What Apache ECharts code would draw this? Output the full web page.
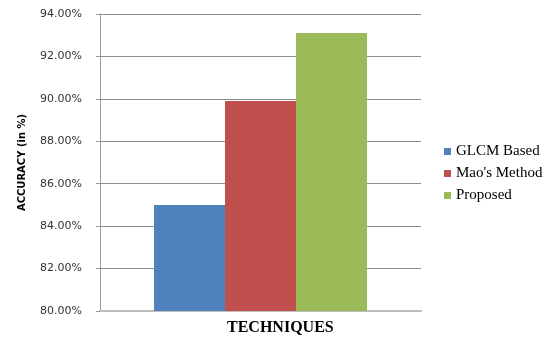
<!DOCTYPE html>
<html>
<head>
<meta charset="utf-8">
<script src="https://cdn.jsdelivr.net/npm/echarts@6/dist/echarts.min.js"></script>
<style>
  html, body { margin: 0; padding: 0; background: #fff; }
  #chart { width: 550px; height: 337px; }
</style>
</head>
<body>
<div id="chart"></div>
<script>
// Accuracy per technique (values in %)
const categories = [''];
const seriesNames = ['GLCM Based', "Mao's Method", 'Proposed'];
const glcmValues = [85.0];
const maoValues = [89.9];
const proposedValues = [93.1];
const yTicks = { min: 80, max: 94, step: 2 };

const COLORS = ['#4f81bd', '#c0504d', '#9bbb59'];
const seriesData = [glcmValues, maoValues, proposedValues];

const chart = echarts.init(document.getElementById('chart'), null, { renderer: 'canvas' });

chart.setOption({
    animation: false,
    backgroundColor: '#fff',
    color: COLORS,
    grid: { left: 100, right: 129, top: 14, bottom: 26 },
    legend: {
        orient: 'vertical',
        left: 439,
        top: 139,
        itemWidth: 7,
        itemHeight: 7,
        itemGap: 7,
        icon: 'rect',
        textStyle: { fontFamily: 'Liberation Serif', fontSize: 15, color: '#000' },
        data: seriesNames,
    },
    xAxis: {
        type: 'category',
        data: categories,
        axisLine: { lineStyle: { color: '#bdbdbd', width: 2 } },
        axisTick: { show: false },
        axisLabel: { show: false },
    },
    yAxis: {
        type: 'value',
        min: yTicks.min,
        max: yTicks.max,
        interval: yTicks.step,
        name: 'ACCURACY (in %)',
        nameLocation: 'middle',
        nameGap: 73,
        nameTextStyle: { fontFamily: 'DejaVu Sans', fontWeight: 'bold', fontSize: 10, color: '#000' },
        axisLine: { show: true, lineStyle: { color: '#9a9a9a' } },
        axisTick: { show: true, length: 4, lineStyle: { color: '#9a9a9a' } },
        axisLabel: {
            margin: 18,
            fontFamily: 'DejaVu Sans',
            fontSize: 11,
            color: '#333',
            formatter: (v) => v.toFixed(2) + '%',
        },
        splitLine: { lineStyle: { color: '#8c8c8c' } },
    },
    graphic: [{
        type: 'text',
        left: 227,
        top: 320,
        style: { text: 'TECHNIQUES', font: 'bold 16px "Liberation Serif"', fill: '#000' },
    }],
    series: seriesNames.map((name, i) => ({
        name,
        type: 'bar',
        data: seriesData[i],
        barWidth: 71,
        barGap: '0%',
    })),
});
</script>
</body>
</html>
